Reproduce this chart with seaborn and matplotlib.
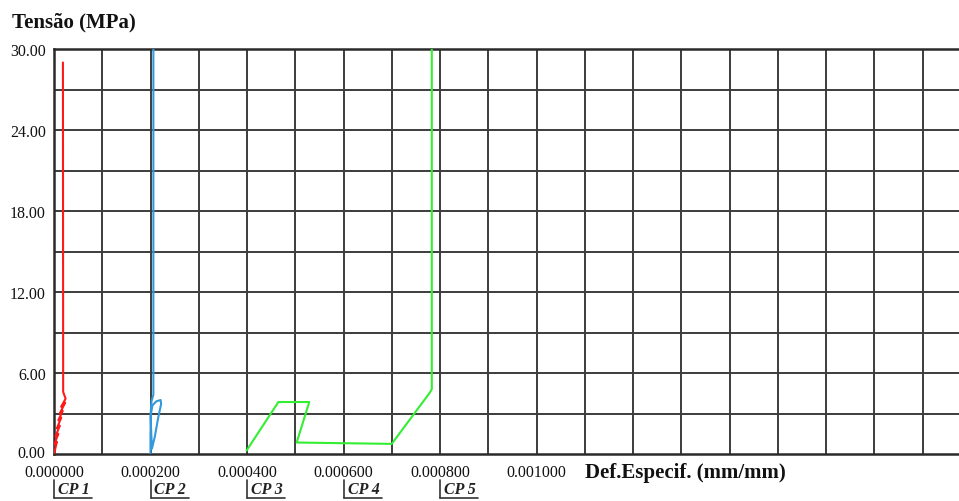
import numpy as np
import pandas as pd
import matplotlib
matplotlib.use("Agg")
import matplotlib.pyplot as plt
import matplotlib.transforms as mtransforms
import seaborn as sns

# Stress-strain records (strain in mm/mm, stress in MPa)
cp1_strain = [0.0, 0.0000060, 0.0000005, 0.0000090, 0.0000030, 0.0000120, 0.0000060,
              0.0000150, 0.0000090, 0.0000180, 0.0000120, 0.0000230, 0.0000150,
              0.0000240, 0.0000190, 0.0000185]
cp1_stress = [0.0, 0.9, 0.7, 1.5, 1.3, 2.1, 1.9, 2.7, 2.5, 3.2, 3.0, 3.8, 3.5,
              4.1, 4.6, 29.0]

cp2_strain = [0.000200, 0.000200, 0.000201, 0.000204, 0.000212, 0.000221, 0.000222,
              0.000216, 0.000209, 0.000203, 0.000200, 0.000202, 0.000206, 0.000206]
cp2_stress = [0.0, 1.5, 3.0, 3.6, 3.9, 4.0, 3.7, 2.7, 1.3, 0.4, 2.8, 3.9, 4.4, 31.0]

cp3_strain = [0.000399, 0.000465, 0.000529, 0.000503, 0.000600, 0.000700, 0.000779,
              0.000783, 0.000783]
cp3_stress = [0.25, 3.85, 3.85, 0.85, 0.80, 0.75, 4.55, 4.8, 31.0]

series_names = ["CP 1", "CP 2", "CP 3"]
series_colors = ["#ff1a1a", "#3399dd", "#33ee33"]

legend_labels = ["CP 1", "CP 2", "CP 3", "CP 4", "CP 5"]
legend_positions = [0.0, 0.0002, 0.0004, 0.0006, 0.0008]

x_label_ticks = [0.0, 0.0002, 0.0004, 0.0006, 0.0008, 0.0010]
y_label_ticks = [0.0, 6.0, 12.0, 18.0, 24.0, 30.0]

df = pd.concat([
    pd.DataFrame({"strain": s, "stress": t, "cp": n, "order": range(len(s))})
    for s, t, n in zip([cp1_strain, cp2_strain, cp3_strain],
                       [cp1_stress, cp2_stress, cp3_stress], series_names)
], ignore_index=True)

sns.set_theme(style="white")
plt.rcParams["font.family"] = ["Liberation Serif", "DejaVu Serif"]

W, H = 959, 502
fig = plt.figure(figsize=(W / 100, H / 100), dpi=100)
left_px, right_px, top_px, bottom_px = 54, 959, 50, 455
ax = fig.add_axes([left_px / W, 1 - bottom_px / H,
                   (right_px - left_px) / W, (bottom_px - top_px) / H])

px_per_unit = 482.5 / 0.001
xmax = (right_px - left_px) / px_per_unit
ax.set_xlim(0, xmax)
ax.set_ylim(0, 30)

# grid: every 0.0001 in strain, every 3 MPa in stress
grid_color = "#3c3c3c"
for gx in np.arange(0.0001, xmax, 0.0001):
    ax.axvline(gx, color=grid_color, lw=1.4, zorder=1)
for gy in np.arange(3, 30, 3):
    ax.axhline(gy, color=grid_color, lw=1.4, zorder=1)

# each curve is drawn in recorded order (no sorting by strain)
for name, col in zip(series_names, series_colors):
    sub = df[df.cp == name]
    sns.lineplot(data=sub, x="strain", y="stress", estimator=None, sort=False,
                 color=col, lw=1.5, legend=False, ax=ax, zorder=3)

for side in ["left", "top", "bottom"]:
    ax.spines[side].set_color("#2a2a2a")
    ax.spines[side].set_linewidth(1.8)
ax.spines["right"].set_visible(False)

ax.set_xticks(x_label_ticks)
ax.set_xticklabels([f"{v:.6f}" for v in x_label_ticks], fontsize=11.5)
ax.set_yticks(y_label_ticks)
ax.set_yticklabels([f"{v:.2f}" for v in y_label_ticks], fontsize=11.5)
ax.tick_params(axis="x", length=0, pad=7, colors="#111111")
ax.tick_params(axis="y", length=0, pad=6, colors="#111111")
# nudge the lowest stress label up a little so it clears the first strain label
lift = mtransforms.ScaledTranslation(0, 3 / 100, fig.dpi_scale_trans)
lbl0 = ax.get_yticklabels()[0]
lbl0.set_transform(lbl0.get_transform() + lift)
ax.set_xlabel("")
ax.set_ylabel("")

fig.text(12 / W, 1 - 22 / H, "Tensão (MPa)", fontsize=15, fontweight="bold",
         ha="left", va="center", color="#111111")
fig.text(585 / W, 1 - 473 / H, "Def.Especif. (mm/mm)", fontsize=15,
         fontweight="bold", ha="left", va="center", color="#111111")

# specimen labels beneath the strain axis
for lab, pos in zip(legend_labels, legend_positions):
    x0 = (left_px + pos * px_per_unit) / W
    fig.add_artist(plt.Line2D([x0, x0], [1 - 481 / H, 1 - 499 / H],
                              color="#333333", lw=1.2))
    fig.add_artist(plt.Line2D([x0, x0 + 38 / W], [1 - 499 / H, 1 - 499 / H],
                              color="#333333", lw=1.2))
    fig.text(x0 + 4 / W, 1 - 490 / H, lab, fontsize=11.5, fontstyle="italic",
             fontweight="bold", ha="left", va="center", color="#222222")

fig.savefig("out.png", dpi=100, facecolor="white")
